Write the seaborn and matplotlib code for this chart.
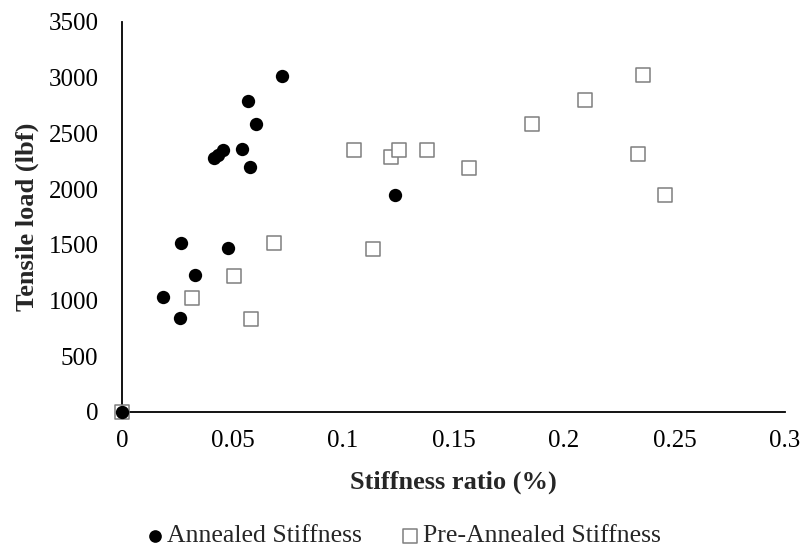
import matplotlib
matplotlib.use("Agg")
import matplotlib.pyplot as plt
import seaborn as sns
import pandas as pd

annealed_x = [0.0, 0.0185, 0.0263, 0.0265, 0.0330, 0.0480, 0.0416, 0.0435, 0.0459,
              0.0542, 0.0572, 0.0579, 0.0605, 0.0723, 0.1235]
annealed_y = [0, 1030, 842, 1520, 1226, 1468, 2280, 2310, 2355,
              2357, 2795, 2196, 2587, 3018, 1944]

pre_x = [0.0, 0.0317, 0.0508, 0.0584, 0.0688, 0.1134, 0.1052, 0.1218, 0.1253,
         0.1379, 0.1569, 0.1855, 0.2096, 0.2333, 0.2358, 0.2459]
pre_y = [0, 1027, 1223, 837, 1515, 1467, 2354, 2286, 2354,
         2354, 2193, 2587, 2798, 2319, 3021, 1944]

series_names = ["Annealed Stiffness", "Pre-Annealed Stiffness"]
x_ticks = [0, 0.05, 0.1, 0.15, 0.2, 0.25, 0.3]
x_tick_labels = ["0", "0.05", "0.1", "0.15", "0.2", "0.25", "0.3"]
y_ticks = [0, 500, 1000, 1500, 2000, 2500, 3000, 3500]

sns.set_theme(style="white")
plt.rcParams["font.family"] = ["Liberation Serif", "DejaVu Serif"]

df_a = pd.DataFrame({"x": annealed_x, "y": annealed_y})
df_p = pd.DataFrame({"x": pre_x, "y": pre_y})

fig = plt.figure(figsize=(8.05, 5.55), dpi=100)
ax = fig.add_axes([122 / 805, 1 - 412 / 555, (785 - 122) / 805, (412 - 22) / 555])

sns.scatterplot(data=df_p, x="x", y="y", ax=ax, marker="s", s=98,
                facecolor="white", edgecolor="#7f7f7f", linewidth=1.1,
                label=series_names[1], zorder=3, clip_on=False)
sns.scatterplot(data=df_a, x="x", y="y", ax=ax, marker="o", s=92,
                color="black", edgecolor="black", linewidth=0,
                label=series_names[0], zorder=4, clip_on=False)

ax.set_xlim(0, 0.3)
ax.set_ylim(0, 3500)
ax.set_xticks(x_ticks)
ax.set_xticklabels(x_tick_labels)
ax.set_yticks(y_ticks)
ax.tick_params(axis="both", length=0, labelsize=18, colors="black")
ax.tick_params(axis="y", pad=17)
ax.tick_params(axis="x", pad=13)

for s in ["top", "right"]:
    ax.spines[s].set_visible(False)
for s in ["left", "bottom"]:
    ax.spines[s].set_color("black")
    ax.spines[s].set_linewidth(1.3)
ax.patch.set_alpha(0)

ax.set_xlabel("Stiffness ratio (%)", fontsize=19, fontweight="bold")
ax.set_ylabel("Tensile load (lbf)", fontsize=19, fontweight="bold")
ax.xaxis.set_label_coords(0.5, -0.149)
ax.yaxis.set_label_coords(-0.125, 0.5)

handles, labels = ax.get_legend_handles_labels()
ax.get_legend().remove()
order = [labels.index(series_names[0]), labels.index(series_names[1])]
leg = fig.legend([handles[i] for i in order], [labels[i] for i in order],
                 loc="center", bbox_to_anchor=(403 / 805, 1 - 536 / 555),
                 ncol=2, frameon=False, fontsize=18.5, handletextpad=0.15,
                 columnspacing=1.5, markerscale=0.95, handlelength=0.7,
                 borderpad=0.1)

fig.savefig("out.png", dpi=100)
